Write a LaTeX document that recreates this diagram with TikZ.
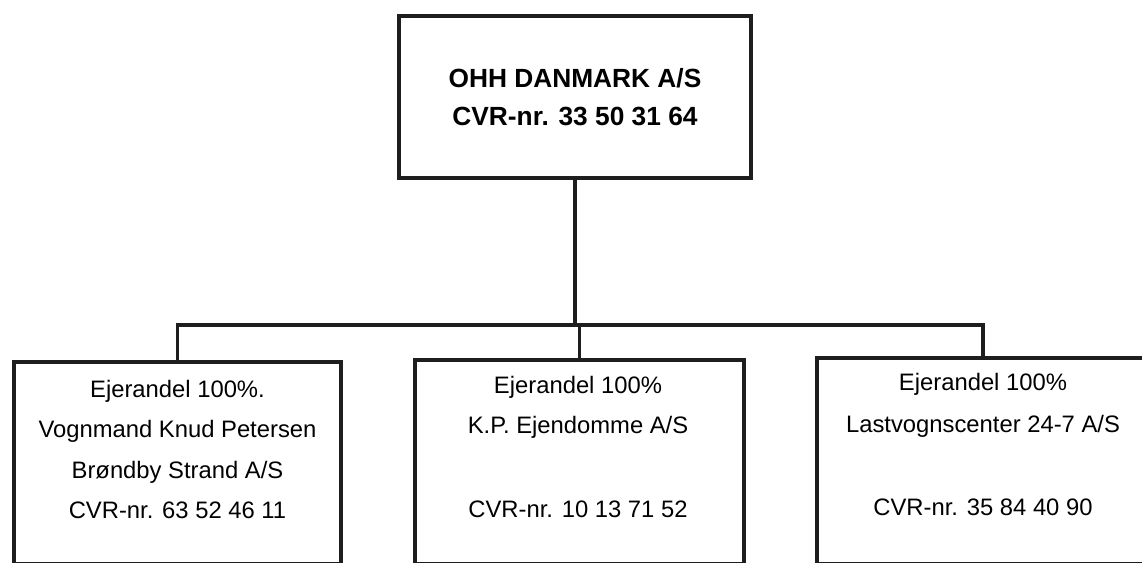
\documentclass[tikz,border=0pt]{standalone}
\usepackage{fontspec}
\setmainfont{Liberation Sans}
\definecolor{ink}{HTML}{1E1E1E}
\begin{document}
\begin{tikzpicture}[x=1pt,y=-1pt,
  box/.style={draw=ink, line width=4pt, rectangle, inner sep=0pt, fill=none},
  conn/.style={draw=ink, line width=3.5pt, line cap=rect},
  toptxt/.style={anchor=base, inner sep=0pt, text=black, font=\fontsize{26.3}{30}\selectfont\bfseries},
  subtxt/.style={anchor=base, inner sep=0pt, text=black, font=\fontsize{23.8}{28}\selectfont}]
\clip (0,0) rectangle (1142,562);
\fill[white] (0,0) rectangle (1142,562);
% boxes
\node[box, minimum width=352pt, minimum height=162pt] (top) at (575,97) {};
\node[box, minimum width=327pt, minimum height=202pt] (left) at (177.5,463) {};
\node[box, minimum width=329pt, minimum height=204pt] (mid) at (579.5,462) {};
\node[box, minimum width=332pt, minimum height=206pt] (right) at (983,461) {};
% connectors
\coordinate (bus) at (575,325);
\draw[conn] (top.south) -- (bus);
\draw[conn] (left.north) |- (bus) -| (right.north);
\draw[conn] (mid.north) -- (mid.north |- bus);
% texts
\node[toptxt] (t1) at (575,87) {OHH DANMARK A/S};
\node[toptxt] (t2) at (575,125) {CVR-nr. 33 50 31 64};
\node[subtxt] (l1) at (177.5,397) {Ejerandel 100\%.};
\node[subtxt] (l2) at (177.5,437) {Vognmand Knud Petersen};
\node[subtxt] (l3) at (177.5,478) {Brøndby Strand A/S};
\node[subtxt] (l4) at (177.5,518) {CVR-nr. 63 52 46 11};
\node[subtxt] (m1) at (578,393) {Ejerandel 100\%};
\node[subtxt] (m2) at (578,433) {K.P. Ejendomme A/S};
\node[subtxt] (m3) at (578,517) {CVR-nr. 10 13 71 52};
\node[subtxt] (r1) at (983,390) {Ejerandel 100\%};
\node[subtxt] (r2) at (983,432) {Lastvognscenter 24-7 A/S};
\node[subtxt] (r3) at (983,515) {CVR-nr. 35 84 40 90};
\end{tikzpicture}
\end{document}
